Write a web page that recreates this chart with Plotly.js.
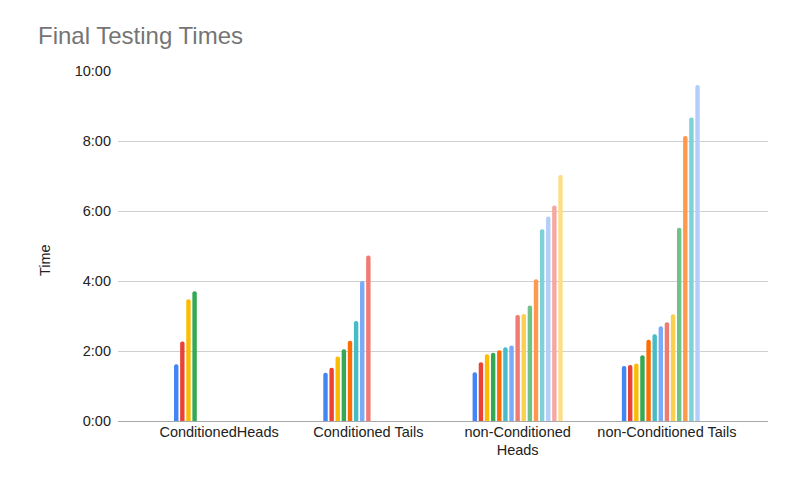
<!DOCTYPE html>
<html>
<head>
<meta charset="utf-8">
<script src="https://cdn.plot.ly/plotly-3.0.1.min.js"></script>
<style>html,body{margin:0;padding:0;background:#fff}#chart{width:794px;height:492px}</style>
</head>
<body>
<div id="chart"></div>
<script>
// Categories (x axis)
const categories = ["ConditionedHeads", "Conditioned Tails", "non-Conditioned<br>Heads", "non-Conditioned Tails"];

// Series values in minutes (null = no bar)
const run1  = [1.62, 1.38, 1.39, 1.57];
const run2  = [2.27, 1.52, 1.68, 1.60];
const run3  = [3.48, 1.84, 1.91, 1.64];
const run4  = [3.71, 2.05, 1.95, 1.88];
const run5  = [null, 2.29, 2.02, 2.32];
const run6  = [null, 2.86, 2.11, 2.48];
const run7  = [null, 4.00, 2.16, 2.71];
const run8  = [null, 4.73, 3.03, 2.82];
const run9  = [null, null, 3.06, 3.05];
const run10 = [null, null, 3.30, 5.52];
const run11 = [null, null, 4.05, 8.14];
const run12 = [null, null, 5.48, 8.67];
const run13 = [null, null, 5.84, 9.60];
const run14 = [null, null, 6.16, null];
const run15 = [null, null, 7.03, null];

const seriesValues = [run1, run2, run3, run4, run5, run6, run7, run8, run9, run10, run11, run12, run13, run14, run15];
const seriesNames = seriesValues.map((_, i) => "Run " + (i + 1));

// Y tick labels
const yTickVals = [0, 2, 4, 6, 8, 10];
const yTickText = ["0:00", "2:00", "4:00", "6:00", "8:00", "10:00"];

const colors = ["#4285F4", "#EA4335", "#FBBC04", "#34A853", "#FF6D01", "#46BDC6", "#7BAAF7", "#F07B72",
                "#FCD04F", "#71C287", "#FF994D", "#7ED1D7", "#B3CEFB", "#F7A7A1", "#FDDE86"];

const traces = seriesValues.map((vals, i) => ({
  type: "bar",
  name: seriesNames[i],
  x: categories,
  y: vals,
  marker: { color: colors[i], cornerradius: 2, line: { width: 0 } },
  hoverinfo: "skip"
}));

const font = "'Liberation Sans', Arial, sans-serif";

const layout = {
  width: 794,
  height: 492,
  margin: { l: 118, r: 26, t: 71, b: 71 },
  paper_bgcolor: "#ffffff",
  plot_bgcolor: "#ffffff",
  showlegend: false,
  barmode: "group",
  bargap: 0.385,
  bargroupgap: 0.28,
  font: { family: font, size: 14.5, color: "#222222" },
  title: {
    text: "Final Testing Times",
    font: { family: font, size: 24, color: "#757575" },
    xref: "container", x: 38 / 794, xanchor: "left",
    yref: "container", y: 1 - 36 / 492, yanchor: "middle"
  },
  xaxis: {
    type: "category",
    range: [-0.677, 3.677],
    showgrid: false,
    showline: false,
    ticks: "",
    tickfont: { family: font, size: 14.5, color: "#222222" },
    fixedrange: true
  },
  yaxis: {
    range: [0, 10],
    tickvals: yTickVals,
    ticktext: yTickText,
    showgrid: true,
    gridcolor: "#d0d0d0",
    gridwidth: 1,
    zeroline: true,
    zerolinecolor: "#a8a8a8",
    zerolinewidth: 1,
    showline: false,
    ticks: "",
    ticklabelstandoff: 6,
    tickfont: { family: font, size: 14.5, color: "#222222" },
    fixedrange: true
  },
  annotations: [{
    text: "Time",
    xref: "paper", yref: "paper",
    x: (45 - 118) / 650, y: (421 - 260) / 350,
    xanchor: "center", yanchor: "middle",
    textangle: -90,
    showarrow: false,
    font: { family: font, size: 14.5, color: "#222222" }
  }]
};

Plotly.newPlot("chart", traces, layout, { displayModeBar: false, staticPlot: true });
</script>
</body>
</html>
